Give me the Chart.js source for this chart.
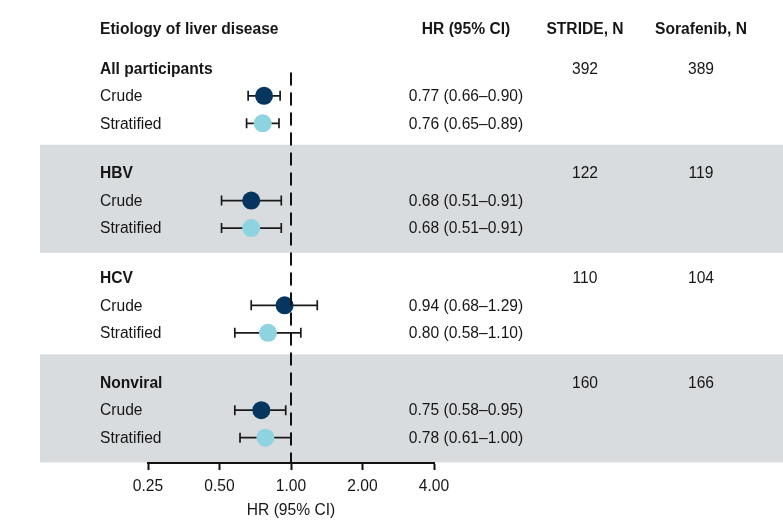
<!DOCTYPE html>
<html>
<head>
<meta charset="utf-8">
<script src="https://cdn.jsdelivr.net/npm/chart.js@4.4.1/dist/chart.umd.min.js"></script>
<style>
  html, body { margin: 0; padding: 0; background: #ffffff; }
  #wrap { width: 783px; height: 520px; position: relative; }
</style>
</head>
<body>
<div id="wrap"><canvas id="c" width="783" height="520"></canvas></div>
<script>
// ---- data ----
const groups = ['All participants', 'HBV', 'HCV', 'Nonviral'];
const estimateLabels = ['Crude', 'Stratified'];
const hrCrude = [0.77, 0.68, 0.94, 0.75];
const loCrude = [0.66, 0.51, 0.68, 0.58];
const hiCrude = [0.90, 0.91, 1.29, 0.95];
const hrStrat = [0.76, 0.68, 0.80, 0.78];
const loStrat = [0.65, 0.51, 0.58, 0.61];
const hiStrat = [0.89, 0.91, 1.10, 1.00];
const nStride = [392, 122, 110, 160];
const nSorafenib = [389, 119, 104, 166];
const xTicks = [0.25, 0.5, 1, 2, 4];
const headers = ['Etiology of liver disease', 'HR (95% CI)', 'STRIDE, N', 'Sorafenib, N'];
const axisTitle = 'HR (95% CI)';
const shadedGroups = [1, 3];

// ---- layout / style ----
const FONT = "'Liberation Sans', Arial, Helvetica, sans-serif";
const FS = 15.6;
const TXT = '#161616';
const DARK = '#063660';
const LIGHT = '#8dd3e0';
const BAND = '#d9dcde';
const GROUP_STEP = 3.81;
const HEADER_ROW = -1.45;
const TEXT_DY = 1;
const COL_LABEL = 100, COL_HR = 466, COL_STRIDE = 585, COL_SORA = 701, BAND_LEFT = 40;
function rowY(g, k) { return g * GROUP_STEP + k; }
function fmt(v) { return v.toFixed(2); }

const forestPlugin = {
  id: 'forest',
  beforeDraw(chart) {
    const ctx = chart.ctx, y = chart.scales.y;
    ctx.save();
    ctx.fillStyle = BAND;
    shadedGroups.forEach(g => {
      const top = y.getPixelForValue(rowY(g, 0) - 1.03);
      const bot = y.getPixelForValue(rowY(g, 0) + 2.9);
      ctx.fillRect(BAND_LEFT, top, chart.width - BAND_LEFT, bot - top);
    });
    ctx.restore();
  },
  beforeDatasetsDraw(chart) {
    const ctx = chart.ctx, x = chart.scales.x, y = chart.scales.y;
    ctx.save();
    ctx.strokeStyle = '#1a1a1a';
    ctx.lineWidth = 1.7;
    const draw = (lo, hi, yy) => {
      const x1 = x.getPixelForValue(lo), x2 = x.getPixelForValue(hi), py = y.getPixelForValue(yy);
      ctx.beginPath();
      ctx.moveTo(x1, py); ctx.lineTo(x2, py);
      ctx.moveTo(x1, py - 5); ctx.lineTo(x1, py + 5);
      ctx.moveTo(x2, py - 5); ctx.lineTo(x2, py + 5);
      ctx.stroke();
    };
    groups.forEach((g, i) => {
      draw(loCrude[i], hiCrude[i], rowY(i, 1));
      draw(loStrat[i], hiStrat[i], rowY(i, 2));
    });
    ctx.restore();
  },
  afterDatasetsDraw(chart) {
    const ctx = chart.ctx, x = chart.scales.x, y = chart.scales.y;
    const area = chart.chartArea;
    ctx.save();
    // reference line at HR = 1
    const px = Math.round(x.getPixelForValue(1));
    ctx.strokeStyle = '#111';
    ctx.lineWidth = 2;
    ctx.setLineDash([13, 7]);
    ctx.beginPath();
    ctx.moveTo(px, y.getPixelForValue(rowY(0, 0) + 0.15));
    ctx.lineTo(px, area.bottom);
    ctx.stroke();
    ctx.setLineDash([]);

    // texts
    ctx.fillStyle = TXT;
    ctx.textBaseline = 'middle';
    const bold = 'bold ' + FS + 'px ' + FONT;
    const reg = FS + 'px ' + FONT;
    const hy = y.getPixelForValue(HEADER_ROW) + TEXT_DY;
    ctx.font = bold;
    ctx.textAlign = 'left';
    ctx.fillText(headers[0], COL_LABEL, hy);
    ctx.textAlign = 'center';
    ctx.fillText(headers[1], COL_HR, hy);
    ctx.fillText(headers[2], COL_STRIDE, hy);
    ctx.fillText(headers[3], COL_SORA, hy);

    groups.forEach((g, i) => {
      const y0 = y.getPixelForValue(rowY(i, 0)) + TEXT_DY;
      const y1 = y.getPixelForValue(rowY(i, 1)) + TEXT_DY;
      const y2 = y.getPixelForValue(rowY(i, 2)) + TEXT_DY;
      ctx.font = bold;
      ctx.textAlign = 'left';
      ctx.fillText(g, COL_LABEL, y0);
      ctx.font = reg;
      ctx.fillText(estimateLabels[0], COL_LABEL, y1);
      ctx.fillText(estimateLabels[1], COL_LABEL, y2);
      ctx.textAlign = 'center';
      ctx.fillText(String(nStride[i]), COL_STRIDE, y0);
      ctx.fillText(String(nSorafenib[i]), COL_SORA, y0);
      ctx.fillText(fmt(hrCrude[i]) + ' (' + fmt(loCrude[i]) + '\u2013' + fmt(hiCrude[i]) + ')', COL_HR, y1);
      ctx.fillText(fmt(hrStrat[i]) + ' (' + fmt(loStrat[i]) + '\u2013' + fmt(hiStrat[i]) + ')', COL_HR, y2);
    });
    ctx.restore();
  }
};

new Chart(document.getElementById('c'), {
  type: 'scatter',
  data: {
    datasets: [
      {
        label: estimateLabels[0],
        data: groups.map((g, i) => ({ x: hrCrude[i], y: rowY(i, 1) })),
        backgroundColor: DARK, borderWidth: 0, pointRadius: 9, pointHoverRadius: 9
      },
      {
        label: estimateLabels[1],
        data: groups.map((g, i) => ({ x: hrStrat[i], y: rowY(i, 2) })),
        backgroundColor: LIGHT, borderWidth: 0, pointRadius: 9, pointHoverRadius: 9
      }
    ]
  },
  options: {
    responsive: false,
    animation: false,
    events: [],
    layout: { autoPadding: false, padding: { left: 148, right: 349, top: 0, bottom: 0 } },
    plugins: { legend: { display: false }, tooltip: { enabled: false } },
    scales: {
      x: {
        type: 'logarithmic',
        position: 'bottom',
        min: 0.25, max: 4,
        afterBuildTicks: s => { s.ticks = xTicks.map(v => ({ value: v })); },
        afterFit: s => { s.height = 57; },
        ticks: {
          callback: v => Number(v).toFixed(2),
          color: TXT, font: { family: FONT, size: FS }, padding: 7,
          maxRotation: 0, autoSkip: false
        },
        grid: { display: true, drawOnChartArea: false, drawTicks: true, tickLength: 7, tickWidth: 2, tickColor: '#111' },
        border: { display: true, color: '#111', width: 2 },
        title: { display: true, text: axisTitle, color: TXT, font: { family: FONT, size: FS }, padding: { top: 1, bottom: 0 } }
      },
      y: {
        type: 'linear', display: false, reverse: true,
        min: -2.484, max: 14.352
      }
    }
  },
  plugins: [forestPlugin]
});
</script>
</body>
</html>
